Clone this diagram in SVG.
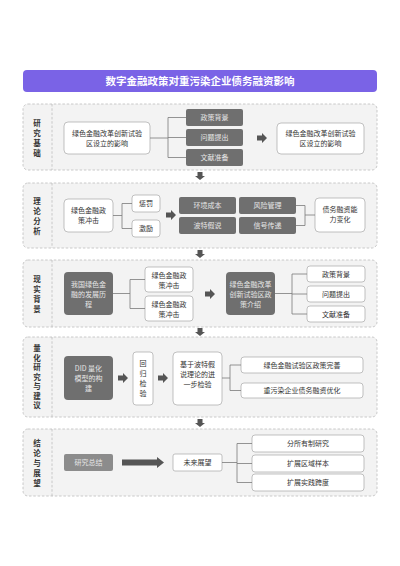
<svg xmlns="http://www.w3.org/2000/svg" xmlns:xlink="http://www.w3.org/1999/xlink" width="400" height="566" viewBox="0 0 400 566">
<defs>
<style>
text{font-family:"Noto Sans CJK SC","Noto Sans",sans-serif;}
.panel{fill:#f3f3f3;stroke:#bdbdbd;stroke-width:0.8;stroke-dasharray:2.5,1.8;}
.div{stroke:#bdbdbd;stroke-width:0.8;stroke-dasharray:2.5,1.8;fill:none;}
.lbl{font-size:7.5px;font-weight:bold;fill:#333;text-anchor:middle;}
.wb{fill:#fff;stroke:#a8a8a8;stroke-width:0.7;}
.db{fill:#6f6f6f;}
.lb{fill:#8c8c8c;}
.t{font-size:7px;fill:#333;text-anchor:middle;}
.tw{font-size:7px;fill:#e6e6e6;text-anchor:middle;}
.ln{fill:none;stroke:#7a7a7a;stroke-width:0.8;}
.ar{fill:#555;}
</style>
<path id="ra" d="M0,-2.5 H5 V-5 L10,0 L5,5 V2.5 H0 Z"/>
<path id="da" d="M-2.5,0 V4 H-5 L0,8 L5,4 H2.5 V0 Z"/>
</defs>

<g id="title">
<rect x="23" y="70" width="354" height="22" rx="4" fill="#7a63e6"/>
<text x="200" y="84.5" font-size="10.5" font-weight="bold" fill="#fff" text-anchor="middle">数字金融政策对重污染企业债务融资影响</text>
</g>

<!-- Section 1 -->
<g id="sec1">
<rect class="panel" x="23" y="104" width="354" height="66" rx="5"/>
<line class="div" x1="52" y1="104" x2="52" y2="170"/>
<text class="lbl"><tspan x="37" y="126">研</tspan><tspan x="37" y="136">究</tspan><tspan x="37" y="146">基</tspan><tspan x="37" y="156">础</tspan></text>
</g>
<g id="s1-box1">
<rect class="wb" x="64" y="122" width="86" height="32" rx="4"/>
<text class="t"><tspan x="107" y="136">绿色金融改革创新试验</tspan><tspan x="107" y="146">区设立的影响</tspan></text>
</g>
<g id="s1-g1"><rect class="db" x="186" y="109" width="57" height="17" rx="2"/><text class="tw" x="214.5" y="120">政策背景</text></g>
<g id="s1-g2"><rect class="db" x="186" y="129" width="57" height="17" rx="2"/><text class="tw" x="214.5" y="140">问题提出</text></g>
<g id="s1-g3"><rect class="db" x="186" y="149" width="57" height="17" rx="2"/><text class="tw" x="214.5" y="160">文献准备</text></g>
<g id="s1-box2">
<rect class="wb" x="277" y="123" width="87" height="31" rx="4"/>
<text class="t"><tspan x="320.5" y="136">绿色金融改革创新试验</tspan><tspan x="320.5" y="146">区设立的影响</tspan></text>
</g>

<!-- Section 2 -->
<g id="sec2">
<rect class="panel" x="23" y="183" width="354" height="65" rx="5"/>
<line class="div" x1="52" y1="183" x2="52" y2="248"/>
<text class="lbl"><tspan x="37" y="204">理</tspan><tspan x="37" y="214">论</tspan><tspan x="37" y="224">分</tspan><tspan x="37" y="234">析</tspan></text>
</g>
<g id="s2-box1">
<rect class="wb" x="64" y="199" width="49" height="33" rx="4"/>
<text class="t"><tspan x="88.5" y="213">绿色金融政</tspan><tspan x="88.5" y="223">策冲击</tspan></text>
</g>
<g id="s2-p"><rect class="wb" x="132" y="195" width="28" height="17" rx="3"/><text class="t" x="146" y="206">惩罚</text></g>
<g id="s2-i"><rect class="wb" x="132" y="220" width="28" height="17" rx="3"/><text class="t" x="146" y="231">激励</text></g>
<g id="s2-g1"><rect class="db" x="179" y="197" width="57" height="17" rx="2"/><text class="tw" x="207.5" y="208">环境成本</text></g>
<g id="s2-g2"><rect class="db" x="239" y="197" width="57" height="17" rx="2"/><text class="tw" x="267.5" y="208">风险管理</text></g>
<g id="s2-g3"><rect class="db" x="179" y="217" width="57" height="17" rx="2"/><text class="tw" x="207.5" y="228">波特假说</text></g>
<g id="s2-g4"><rect class="db" x="239" y="217" width="57" height="17" rx="2"/><text class="tw" x="267.5" y="228">信号传递</text></g>
<g id="s2-box2">
<rect class="wb" x="315" y="198" width="50" height="34" rx="4"/>
<text class="t"><tspan x="340" y="212">债务融资能</tspan><tspan x="340" y="222">力变化</tspan></text>
</g>

<!-- Section 3 -->
<g id="sec3">
<rect class="panel" x="23" y="260" width="354" height="67" rx="5"/>
<line class="div" x1="52" y1="260" x2="52" y2="327"/>
<text class="lbl"><tspan x="37" y="282">现</tspan><tspan x="37" y="292">实</tspan><tspan x="37" y="302">背</tspan><tspan x="37" y="312">景</tspan></text>
</g>
<g id="s3-d1">
<rect class="db" x="64" y="272" width="49" height="43" rx="4"/>
<text class="tw"><tspan x="88.5" y="287">我国绿色金</tspan><tspan x="88.5" y="297">融的发展历</tspan><tspan x="88.5" y="307">程</tspan></text>
</g>
<g id="s3-b1"><rect class="wb" x="145" y="267" width="48" height="25" rx="3"/><text class="t"><tspan x="169" y="277.5">绿色金融政</tspan><tspan x="169" y="287.5">策冲击</tspan></text></g>
<g id="s3-b2"><rect class="wb" x="145" y="296" width="48" height="25" rx="3"/><text class="t"><tspan x="169" y="306.5">绿色金融政</tspan><tspan x="169" y="316.5">策冲击</tspan></text></g>
<g id="s3-d2">
<rect class="db" x="226" y="272" width="49" height="43" rx="4"/>
<text class="tw"><tspan x="250.5" y="287">绿色金融改革</tspan><tspan x="250.5" y="297">创新试验区政</tspan><tspan x="250.5" y="307">策介绍</tspan></text>
</g>
<g id="s3-c1"><rect class="wb" x="307" y="266" width="58" height="16" rx="3"/><text class="t" x="336" y="276.5">政策背景</text></g>
<g id="s3-c2"><rect class="wb" x="307" y="286" width="58" height="16" rx="3"/><text class="t" x="336" y="296.5">问题提出</text></g>
<g id="s3-c3"><rect class="wb" x="307" y="306" width="58" height="16" rx="3"/><text class="t" x="336" y="316.5">文献准备</text></g>

<!-- Section 4 -->
<g id="sec4">
<rect class="panel" x="23" y="337" width="354" height="80" rx="5"/>
<line class="div" x1="52" y1="337" x2="52" y2="417"/>
<text class="lbl"><tspan x="37" y="351">量</tspan><tspan x="37" y="360.5">化</tspan><tspan x="37" y="370">研</tspan><tspan x="37" y="379.5">究</tspan><tspan x="37" y="389">与</tspan><tspan x="37" y="398.5">建</tspan><tspan x="37" y="408">议</tspan></text>
</g>
<g id="s4-d1">
<rect class="db" x="64" y="356" width="49" height="44" rx="4"/>
<text class="tw"><tspan x="88.5" y="371">DID 量化</tspan><tspan x="88.5" y="381">模型的构</tspan><tspan x="88.5" y="391">建</tspan></text>
</g>
<g id="s4-reg">
<rect class="wb" x="133" y="352" width="20" height="53" rx="3"/>
<text class="t"><tspan x="143" y="366">回</tspan><tspan x="143" y="376">归</tspan><tspan x="143" y="386">检</tspan><tspan x="143" y="396">验</tspan></text>
</g>
<g id="s4-b2">
<rect class="wb" x="173" y="352" width="49" height="53" rx="4"/>
<text class="t"><tspan x="197.5" y="367">基于波特假</tspan><tspan x="197.5" y="377">说理论的进</tspan><tspan x="197.5" y="387">一步检验</tspan></text>
</g>
<g id="s4-c1"><rect class="wb" x="241" y="357" width="122" height="16" rx="3"/><text class="t" x="302" y="367.5">绿色金融试验区政策完善</text></g>
<g id="s4-c2"><rect class="wb" x="241" y="383" width="122" height="15" rx="3"/><text class="t" x="302" y="393">重污染企业债务融资优化</text></g>

<!-- Section 5 -->
<g id="sec5">
<rect class="panel" x="23" y="429" width="354" height="67" rx="5"/>
<line class="div" x1="52" y1="429" x2="52" y2="496"/>
<text class="lbl"><tspan x="37" y="446">结</tspan><tspan x="37" y="456">论</tspan><tspan x="37" y="466">与</tspan><tspan x="37" y="476">展</tspan><tspan x="37" y="486">望</tspan></text>
</g>
<g id="s5-sum"><rect class="lb" x="64" y="454" width="49" height="17" rx="2"/><text class="tw" x="88.5" y="465">研究总结</text></g>
<g id="s5-fut"><rect class="wb" x="173" y="454" width="49" height="17" rx="2"/><text class="t" x="197.5" y="465">未来展望</text></g>
<g id="s5-c1"><rect class="wb" x="252" y="435" width="112" height="17" rx="3"/><text class="t" x="308" y="446">分所有制研究</text></g>
<g id="s5-c2"><rect class="wb" x="252" y="455" width="112" height="17" rx="3"/><text class="t" x="308" y="466">扩展区域样本</text></g>
<g id="s5-c3"><rect class="wb" x="252" y="474" width="112" height="17" rx="3"/><text class="t" x="308" y="485">扩展实践跨度</text></g>

<g id="connectors">
<path class="ln" d="M150,138 H168 M168,117.5 V157.5 M168,117.5 H186 M168,137.5 H186 M168,157.5 H186"/>
<use href="#ra" xlink:href="#ra" class="ar" x="257" y="138"/>
<path class="ln" d="M113,215.5 H122 M122,203.5 V228.5 M122,203.5 H132 M122,228.5 H132"/>
<use href="#ra" xlink:href="#ra" class="ar" x="166" y="215"/>
<path class="ln" d="M296,205.5 H305 V225.5 H296 M305,215 H315"/>
<path class="ln" d="M113,293.5 H130 M130,279.5 V308.5 M130,279.5 H145 M130,308.5 H145"/>
<use href="#ra" xlink:href="#ra" class="ar" x="205" y="294"/>
<path class="ln" d="M275,293.5 H292 M292,274 V314 M292,274 H307 M292,294 H307 M292,314 H307"/>
<use href="#ra" xlink:href="#ra" class="ar" x="118" y="378"/>
<use href="#ra" xlink:href="#ra" class="ar" x="158" y="378"/>
<path class="ln" d="M222,378 H230 M230,365 V390.5 M230,365 H241 M230,390.5 H241"/>
<path class="ar" d="M122,459.5 H157 V457 L164,462.5 L157,468 V465.5 H122 Z"/>
<path class="ln" d="M222,462.5 H237 M237,443.5 V482.5 M237,443.5 H252 M237,463.5 H252 M237,482.5 H252"/>
<use href="#da" xlink:href="#da" class="ar" x="200" y="172"/>
<use href="#da" xlink:href="#da" class="ar" x="200" y="250"/>
<use href="#da" xlink:href="#da" class="ar" x="200" y="328"/>
<use href="#da" xlink:href="#da" class="ar" x="200" y="419"/>
</g>
</svg>
